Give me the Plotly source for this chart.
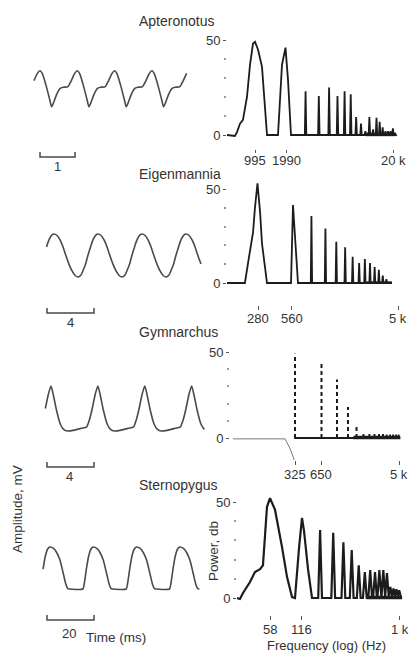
import math
import plotly.graph_objects as go

W, H = 415, 657
FONT = "Liberation Sans, Arial, sans-serif"
TXT = "#333333"
INK = "#1c1c1c"
WAVE = "#4a4a4a"

# ---------------- DATA ----------------
species = ["Apteronotus", "Eigenmannia", "Gymnarchus", "Sternopygus"]

# one period of each waveform, starting at the positive peak (phase 0..1), normalised amplitude
ap_phase = [0.00, 0.06, 0.16, 0.26, 0.31, 0.36, 0.45, 0.54, 0.62, 0.75, 0.84, 0.93]
ap_val = [1.0, 0.85, 0.2, -0.6, -1.0, -0.8, -0.3, 0.02, 0.08, 0.12, 0.45, 0.85]
ei_phase = [0.00, 0.07, 0.14, 0.21, 0.27, 0.34, 0.41, 0.48, 0.545, 0.61, 0.66, 0.72, 0.77, 0.83, 0.89, 0.95]
ei_val = [1.0, 0.93, 0.71, 0.37, 0.0, -0.40, -0.72, -0.93, -1.0, -0.92, -0.70, -0.38, 0.0, 0.40, 0.75, 0.95]
gy_phase = [0.00, 0.05, 0.12, 0.20, 0.27, 0.35, 0.50, 0.65, 0.76, 0.82, 0.88, 0.94]
gy_val = [1.0, 0.6, -0.1, -0.7, -0.93, -1.0, -0.96, -0.88, -0.82, -0.5, 0.0, 0.6]
st_phase = [0.00, 0.08, 0.15, 0.23, 0.30, 0.37, 0.41, 0.45, 0.76, 0.79, 0.84, 0.89, 0.95]
st_val = [1.0, 0.93, 0.75, 0.38, -0.2, -0.8, -0.98, -1.0, -1.0, -0.75, -0.05, 0.55, 0.92]
periods_ms = [1.066, 3.745, 3.99, 18.43]
trace_span_ms = [(-0.171, 4.2), (-0.68, 12.68), (-0.68, 13.1), (-2.98, 66.8)]

scale_len_ms = [1, 4, 4, 20]
scale_lbl = ["1", "4", "4", "20"]

# spectra: broad low-frequency outline (Hz, dB)
ap_f = [541, 644, 673, 718, 766, 836, 893, 952, 995, 1062, 1158, 1237, 1292, 1640, 1789, 1930, 2038, 2175]
ap_db = [0, -0.5, 1.5, 6, 8, 20, 37, 48, 49, 45, 36, 13, 0, 0, 37, 46, 29, 0]
ap_hf = [2985, 3980, 4975, 5970, 6965, 7960, 8955, 9950, 10945, 11940, 12935, 13930, 14925,
         15920, 16915, 17910, 18905, 19900, 20895]
ap_hdb = [23, 20.5, 25, 20.5, 23, 21.5, 9.5, 6, 2, 9.5, 3, 9, 7, 4, 2, 2, 2, 3.5, 1]
ap_end = 21000
ap_band = [11000, 21000]

ei_f = [148, 214, 233, 253, 263, 277, 292, 304, 337, 552, 575, 637]
ei_db = [0, 0, 14, 27, 40, 53, 38, 21, 0, 0, 41.5, 0]
ei_hf = [840, 1120, 1400, 1680, 1960, 2240, 2520, 2800, 3080, 3360, 3640, 3920]
ei_hdb = [35.6, 29, 22, 19, 14, 10.6, 12.8, 10.6, 8.5, 7, 4, 2]
ei_end = 4400
ei_band = [2600, 4400]

gy_thin_f = [64, 250, 285, 325]
gy_thin_db = [-0.5, -0.5, -6, -14]
gy_hf = [325, 650, 975, 1300, 1625, 1950, 2275, 2600, 2925, 3250, 3575, 3900, 4225, 4550, 4875]
gy_hdb = [49, 44, 34, 18, 7, 4, 3.5, 3, 2.5, 2.5, 2, 2, 2, 2, 2]
gy_base = [318, 5100]
gy_band = [1500, 5100]

st_f = [28.1, 30.0, 32.1, 37.4, 41.7, 46.6, 49.7, 52.0, 54.3, 58, 64.7, 75.5, 84.2, 94.0, 100.3,
        109.6, 117, 122.3, 133.5, 145.7]
st_db = [0, -0.5, 2.6, 8.3, 13.5, 15, 17, 32, 47.5, 52, 46, 26.5, 11, 0.5, 0, 26, 41.7, 35, 15, 0]
st_hf = [174, 232, 290, 348, 406, 464, 522, 580, 638, 696, 754, 812, 870, 928, 986]
st_hdb = [35.4, 34, 29, 25, 17, 13.5, 14.6, 13.5, 14.6, 14.6, 13, 5.7, 5, 4.5, 4]
st_end = 1050
st_band = [480, 1050]

x_tickvals = [[995, 1990, 20000], [280, 560, 5000], [325, 650, 5000], [58, 116, 1000]]
x_ticktext = [["995", "1990", "20 k"], ["280", "560", "5 k"], ["325", "650", "5 k"], ["58", "116", "1 k"]]

# ---------------- LAYOUT CALIBRATION (pixels) ----------------
def dxp(a, b):
    return [a / W, b / W]

def dyp(top, bot):
    return [1 - bot / H, 1 - top / H]

# waveform: peak x px, px per ms, centre y px, px per unit, domain top/bot, scale bar x/y, label x/y
wave_cal = [
    dict(xp=40, s=35.0, yc=88.7, a=18.0, top=55, bot=175, bx=40, by=157, lx=57, ly=166),
    dict(xp=54, s=11.75, yc=255.5, a=21.5, top=215, bot=330, bx=47, by=313, lx=70, ly=322),
    dict(xp=51, s=11.75, yc=408.5, a=22.5, top=370, bot=490, bx=47, by=467, lx=69, ly=476),
    dict(xp=50, s=2.35, yc=568.0, a=21.0, top=530, bot=650, bx=47, by=620, lx=69, ly=633),
]
WL, WR = 28, 214

# spectra: ref freq, ref px, px per decade, domain L/R, domain top/bot, px of 0 dB, px of 50 dB,
# tick length, y of tick-label centre
spec_cal = [
    dict(f=995, px=255, ppd=106, L=227, R=399, top=30, bot=149, z=135, f50=40, tl=3, ly=160),
    dict(f=280, px=258, ppd=112, L=227, R=400, top=180, bot=305, z=283, f50=189, tl=4, ly=318),
    dict(f=325, px=295, ppd=88, L=230, R=401, top=345, bot=460, z=438, f50=352, tl=4, ly=474),
    dict(f=58, px=270, ppd=105, L=237, R=405, top=490, bot=615, z=598, f50=502, tl=4, ly=629),
]

fig = go.Figure()

def tile(phase, val, T, t0, t1):
    ts, vs = [], []
    for k in range(-1, 8):
        for p, v in zip(phase, val):
            t = (k + p) * T
            if t0 <= t <= t1:
                ts.append(t)
                vs.append(v)
    return ts, vs

waves = [(ap_phase, ap_val), (ei_phase, ei_val), (gy_phase, gy_val), (st_phase, st_val)]

def spikes(freqs, dbs, w):
    xs, ys = [], []
    for f, d in zip(freqs, dbs):
        xs += [f * 10 ** (-w), f, f * 10 ** w]
        ys += [0, d, 0]
    return xs, ys

def ann(text, x, y, size=13, angle=0, xanchor="center", xref="paper"):
    return dict(text=text, x=(x / W if xref == "paper" else x), y=1 - y / H, xref=xref, yref="paper",
                showarrow=False, xanchor=xanchor, yanchor="middle", textangle=angle,
                font=dict(family=FONT, size=size, color=TXT))

annotations = []
layout_axes = {}
for i in range(4):
    wi = 2 * i + 1
    si = 2 * i + 2
    c = wave_cal[i]
    # waveform
    ph, vv = waves[i]
    t0, t1 = trace_span_ms[i]
    ts, vs = tile(ph, vv, periods_ms[i], t0, t1)
    fig.add_trace(go.Scatter(x=ts, y=vs, mode="lines",
                             line=dict(color=WAVE, width=1.6, shape="spline", smoothing=0.6),
                             xaxis=f"x{wi}", yaxis=f"y{wi}", hoverinfo="skip", showlegend=False))
    # scale bar
    b0 = (c["bx"] - c["xp"]) / c["s"]
    b1 = b0 + scale_len_ms[i]
    yb = (c["yc"] - c["by"]) / c["a"]
    yt = (c["yc"] - (c["by"] - 5)) / c["a"]
    fig.add_trace(go.Scatter(x=[b0, b0, b1, b1], y=[yt, yb, yb, yt], mode="lines",
                             line=dict(color=WAVE, width=1.5), xaxis=f"x{wi}", yaxis=f"y{wi}",
                             hoverinfo="skip", showlegend=False))
    layout_axes[f"xaxis{wi}"] = dict(domain=dxp(WL, WR),
                                     range=[(WL - c["xp"]) / c["s"], (WR - c["xp"]) / c["s"]],
                                     visible=False, anchor=f"y{wi}")
    layout_axes[f"yaxis{wi}"] = dict(domain=dyp(c["top"], c["bot"]),
                                     range=[(c["yc"] - c["bot"]) / c["a"], (c["yc"] - c["top"]) / c["a"]],
                                     visible=False, anchor=f"x{wi}")
    # spectrum axes
    sc = spec_cal[i]
    lf = math.log10(sc["f"])
    pdb = (sc["z"] - sc["f50"]) / 50.0
    layout_axes[f"xaxis{si}"] = dict(
        type="log", domain=dxp(sc["L"], sc["R"]),
        range=[lf + (sc["L"] - sc["px"]) / sc["ppd"], lf + (sc["R"] - sc["px"]) / sc["ppd"]],
        tickvals=x_tickvals[i], ticks="outside", ticklen=sc["tl"], tickwidth=1,
        tickcolor="#555", showticklabels=False, showline=False, showgrid=False, zeroline=False,
        anchor=f"y{si}")
    layout_axes[f"yaxis{si}"] = dict(
        domain=dyp(sc["top"], sc["bot"]),
        range=[(sc["z"] - sc["bot"]) / pdb, (sc["z"] - sc["top"]) / pdb],
        tickvals=[0, 50], ticktext=["0", "50"], ticks="outside", ticklen=3, tickwidth=1, tickcolor="#555",
        minor=dict(tickvals=[10, 20, 30, 40], ticks="outside", ticklen=2, tickwidth=1.5, tickcolor="#999"),
        showline=False, showgrid=False, zeroline=False, anchor=f"x{si}",
        tickfont=dict(family=FONT, size=13, color=TXT))
    # x tick labels placed on the log axis (x in log10 units)
    for v, t in zip(x_tickvals[i], x_ticktext[i]):
        annotations.append(ann(t, math.log10(v), sc["ly"], size=13, xref=f"x{si}"))

def add_spec(si, xs, ys, color=INK, width=1.8, dash=None):
    fig.add_trace(go.Scatter(x=xs, y=ys, mode="lines", line=dict(color=color, width=width, dash=dash),
                             xaxis=f"x{si}", yaxis=f"y{si}", hoverinfo="skip", showlegend=False,
                             connectgaps=False))

# Apteronotus spectrum
sx, sy = spikes(ap_hf, ap_hdb, 0.007)
add_spec(2, ap_f + sx + [ap_end], ap_db + sy + [0])
add_spec(2, ap_band, [0.3, 0.3], width=3.5)
# Eigenmannia spectrum
sx, sy = spikes(ei_hf, ei_hdb, 0.006)
add_spec(4, ei_f + sx + [ei_end], ei_db + sy + [0])
add_spec(4, ei_band, [0.2, 0.2], width=2.5)
# Gymnarchus spectrum
add_spec(6, gy_thin_f, gy_thin_db, color="#777", width=1)
add_spec(6, gy_base, [0, 0], width=1.8)
add_spec(6, gy_band, [0.3, 0.3], width=3.5)
stx, sty = [], []
for f, d in zip(gy_hf, gy_hdb):
    stx += [f, f, None]
    sty += [0, d, None]
add_spec(6, stx, sty, width=2, dash="4px,3px")
# Sternopygus spectrum
sx, sy = spikes(st_hf, st_hdb, 0.018)
add_spec(8, st_f + sx + [st_end], st_db + sy + [0], width=2.2)
add_spec(8, st_band, [0.3, 0.3], width=3.5)

title_y = [21, 174, 332, 485]
for i in range(4):
    annotations.append(ann(species[i], 137, title_y[i], size=14, xanchor="left"))
    c = wave_cal[i]
    annotations.append(ann(scale_lbl[i], c["lx"], c["ly"], size=13))
annotations.append(ann("Time (ms)", 116, 637, size=13.5))
annotations.append(ann("Amplitude, mV", 17, 509, size=13.5, angle=-90))
annotations.append(ann("Power, db", 213, 551, size=13.5, angle=-90))
annotations.append(ann("Frequency (log) (Hz)", 326, 645, size=13))

fig.update_layout(width=W, height=H, margin=dict(l=0, r=0, t=0, b=0),
                  paper_bgcolor="white", plot_bgcolor="white", showlegend=False,
                  annotations=annotations, **layout_axes)

fig.write_html("out.html", config={"displayModeBar": False})
